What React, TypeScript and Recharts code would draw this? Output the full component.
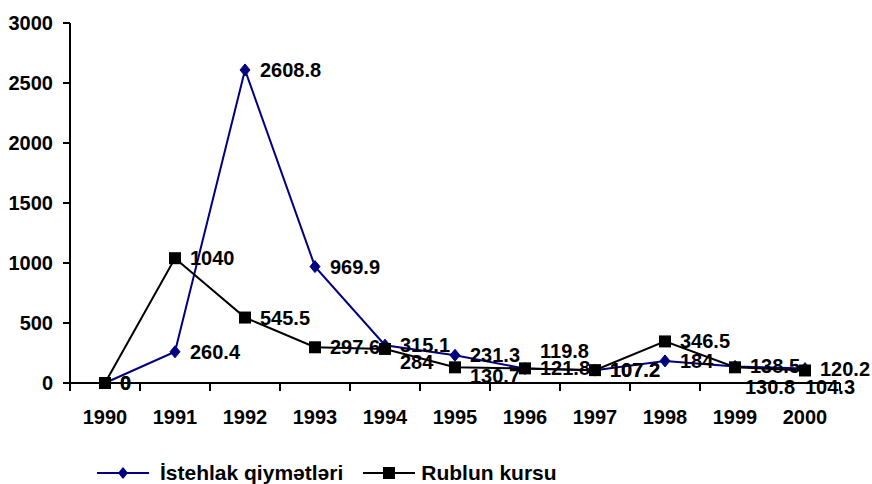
import React from 'react'
import { LineChart, Line, XAxis, YAxis, LabelList } from 'recharts'

const years = ['1990', '1991', '1992', '1993', '1994', '1995', '1996', '1997', '1998', '1999', '2000']
const istehlak = [0, 260.4, 2608.8, 969.9, 315.1, 231.3, 119.8, 107.2, 184, 138.5, 120.2]
const rublun = [0, 1040, 545.5, 297.6, 284, 130.7, 121.8, 107.2, 346.5, 130.8, 104.3]
const yTicks = [0, 500, 1000, 1500, 2000, 2500, 3000]

// label nudges so overlapping labels sit roughly where the original put them
const blueLabelShift: Record<number, [number, number]> = { 6: [15, -18] }
const blackLabelShift: Record<number, [number, number]> = { 4: [15, 13], 5: [15, 9], 9: [10, 20], 10: [0, 17] }

const FONT = 'Arial, "Liberation Sans", sans-serif'
const BLUE = '#000080'

const chartData = years.map((year, i) => ({
  x: i,
  year,
  istehlak: istehlak[i],
  rublun: rublun[i],
}))

// category ticks sit between the years, labels in the middle (Excel style)
const xTicks: number[] = []
for (let i = 0; i <= years.length * 2; i++) xTicks.push(i / 2 - 0.5)

const XTick = (props: any) => {
  const { x, y, payload } = props
  const v = payload.value
  if (Number.isInteger(v)) {
    return (
      <text x={x} y={y + 41} textAnchor="middle" fontSize={20} fontWeight="bold" fontFamily={FONT} fill="#000">
        {years[v]}
      </text>
    )
  }
  return <line x1={x} y1={y} x2={x} y2={y + 8} stroke="#000" strokeWidth={2} />
}

const Diamond = (props: any) => {
  const { cx, cy } = props
  if (cx == null || cy == null) return null
  return <path d={`M${cx},${cy - 6} L${cx + 5},${cy} L${cx},${cy + 6} L${cx - 5},${cy} Z`} fill={BLUE} stroke={BLUE} />
}

const Square = (props: any) => {
  const { cx, cy } = props
  if (cx == null || cy == null) return null
  return <rect x={cx - 6} y={cy - 6} width={12} height={12} fill="#000" />
}

const makeLabel = (shift: Record<number, [number, number]>) => (props: any) => {
  const { x, y, value, index } = props
  const [dx, dy] = shift[index] || [15, 0]
  return (
    <text x={x + dx} y={y + dy} dominantBaseline="central" fontSize={20} fontWeight="bold" fontFamily={FONT} fill="#000">
      {value}
    </text>
  )
}

export default function App() {
  return (
    <div style={{ position: 'absolute', left: 0, top: 0, width: 872, height: 484, background: '#fff' }}>
      <LineChart width={872} height={484} data={chartData} margin={{ top: 23, right: 32, bottom: 51, left: 0 }}>
        <XAxis
          dataKey="x"
          type="number"
          domain={[-0.5, 10.5]}
          ticks={xTicks}
          interval={0}
          height={50}
          tickSize={0}
          tickMargin={0}
          tickLine={false}
          axisLine={{ stroke: '#000', strokeWidth: 2 }}
          tick={<XTick />}
        />
        <YAxis
          domain={[0, 3000]}
          ticks={yTicks}
          width={70}
          tickSize={7}
          tickMargin={10}
          axisLine={{ stroke: '#000', strokeWidth: 2 }}
          tickLine={{ stroke: '#000', strokeWidth: 2 }}
          tick={{ fontSize: 20, fontWeight: 'bold', fontFamily: FONT, fill: '#000' }}
        />
        <Line
          dataKey="istehlak"
          name="İstehlak qiymətləri"
          type="linear"
          stroke={BLUE}
          strokeWidth={2}
          dot={<Diamond />}
          activeDot={false}
          isAnimationActive={false}
        >
          <LabelList dataKey="istehlak" content={makeLabel(blueLabelShift)} />
        </Line>
        <Line
          dataKey="rublun"
          name="Rublun kursu"
          type="linear"
          stroke="#000"
          strokeWidth={2}
          dot={<Square />}
          activeDot={false}
          isAnimationActive={false}
        >
          <LabelList dataKey="rublun" content={makeLabel(blackLabelShift)} />
        </Line>
      </LineChart>

      {/* legend drawn by hand, Excel style */}
      <div style={{ position: 'absolute', left: 97, top: 461, display: 'flex', alignItems: 'center', fontFamily: FONT, fontWeight: 'bold', fontSize: 21, color: '#000' }}>
        <svg width={52} height={14}>
          <line x1={0} y1={7} x2={52} y2={7} stroke={BLUE} strokeWidth={2} />
          <path d="M26,1 L31,7 L26,13 L21,7 Z" fill={BLUE} />
        </svg>
        <span style={{ marginLeft: 11 }}>İstehlak qiymətləri</span>
        <svg width={52} height={14} style={{ marginLeft: 20 }}>
          <line x1={0} y1={7} x2={52} y2={7} stroke="#000" strokeWidth={2} />
          <rect x={20} y={1} width={12} height={12} fill="#000" />
        </svg>
        <span style={{ marginLeft: 6 }}>Rublun kursu</span>
      </div>
    </div>
  )
}
